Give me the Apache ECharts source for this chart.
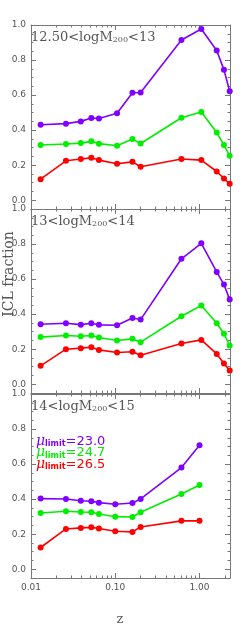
<!DOCTYPE html>
<html><head><meta charset="utf-8">
<script src="https://cdn.jsdelivr.net/npm/echarts@6/dist/echarts.min.js"></script>
<style>html,body{margin:0;padding:0;background:#fff}#c{width:249px;height:630px}</style>
</head><body><div id="c"></div>
<script>
// ---- data ----
const zA = [0.013, 0.026, 0.039, 0.052, 0.064, 0.105, 0.16, 0.2, 0.61, 1.05, 1.6, 1.95, 2.28];
const zC = [0.013, 0.026, 0.039, 0.052, 0.064, 0.10, 0.16, 0.2, 0.61, 1.0];
const p1_230 = [0.431, 0.437, 0.450, 0.469, 0.466, 0.496, 0.613, 0.615, 0.914, 0.977, 0.855, 0.744, 0.622];
const p1_247 = [0.315, 0.321, 0.326, 0.336, 0.323, 0.311, 0.349, 0.324, 0.471, 0.504, 0.387, 0.315, 0.254];
const p1_265 = [0.120, 0.225, 0.235, 0.242, 0.229, 0.208, 0.219, 0.191, 0.235, 0.229, 0.164, 0.124, 0.094];
const p2_230 = [0.342, 0.348, 0.340, 0.348, 0.339, 0.337, 0.378, 0.369, 0.716, 0.804, 0.641, 0.569, 0.483];
const p2_247 = [0.269, 0.278, 0.274, 0.278, 0.267, 0.250, 0.259, 0.240, 0.388, 0.449, 0.348, 0.288, 0.221];
const p2_265 = [0.105, 0.200, 0.206, 0.211, 0.196, 0.181, 0.185, 0.166, 0.232, 0.253, 0.173, 0.118, 0.079];
const p3_230 = [0.403, 0.401, 0.391, 0.388, 0.380, 0.371, 0.378, 0.401, 0.580, 0.707];
const p3_247 = [0.321, 0.331, 0.327, 0.325, 0.315, 0.300, 0.298, 0.325, 0.429, 0.481];
const p3_265 = [0.124, 0.230, 0.236, 0.239, 0.232, 0.217, 0.213, 0.241, 0.276, 0.276];
const xMajorTicks = [0.01, 0.1, 1];
const xMinorTicks = [0.02,0.03,0.04,0.05,0.06,0.07,0.08,0.09,0.2,0.3,0.4,0.5,0.6,0.7,0.8,0.9,2];
const yMajorTicks = [0, 0.2, 0.4, 0.6, 0.8, 1.0];
const yMinorTicks = [0.05,0.1,0.15,0.25,0.3,0.35,0.45,0.5,0.55,0.65,0.7,0.75,0.85,0.9,0.95];
const panelLabels = [['12.50<logM', '200', '<13'], ['13<logM', '200', '<14'], ['14<logM', '200', '<15']];
const legendVals = ['=23.0', '=24.7', '=26.5'];
const colors = ['#7f00ff', '#00ee00', '#ff0000'];

const panels = [
  {z: zA, s: [p1_230, p1_247, p1_265]},
  {z: zA, s: [p2_230, p2_247, p2_265]},
  {z: zC, s: [p3_230, p3_247, p3_265]}
];
const tops = [25, 209, 394];
const H = 184;
const axisCol = '#777';
const textCol = '#555';

const grid = [], xAxis = [], yAxis = [], series = [], graphic = [];
panels.forEach((p, gi) => {
  grid.push({left: 31, width: 199, top: tops[gi], height: H, containLabel: false});
  const xBase = (pos, ticks, len, line, labels) => ({
    type: 'log', logBase: 10, gridIndex: gi, position: pos, min: 0.01, max: 2.3,
    axisLine: {show: line, onZero: false, lineStyle: {color: axisCol, width: 1}},
    axisTick: {show: true, inside: true, length: len, customValues: ticks, lineStyle: {color: axisCol, width: 1}},
    axisLabel: labels ? {show: true, customValues: xMajorTicks, formatter: v => Number(v).toFixed(2),
      color: textCol, fontFamily: 'DejaVu Sans', fontSize: 9, margin: 5} : {show: false},
    splitLine: {show: false}, minorTick: {show: false}
  });
  const xi = xAxis.length;
  xAxis.push(xBase('bottom', xMajorTicks, 5, true, gi === 2));
  xAxis.push(xBase('bottom', xMinorTicks, 2.5, false, false));
  xAxis.push(xBase('top', xMajorTicks, 5, true, false));
  xAxis.push(xBase('top', xMinorTicks, 2.5, false, false));
  const yBase = (pos, ticks, len, line, labels) => ({
    type: 'value', gridIndex: gi, position: pos, min: -0.05, max: 1.0,
    axisLine: {show: line, onZero: false, lineStyle: {color: axisCol, width: 1}},
    axisTick: {show: true, inside: true, length: len, customValues: ticks, lineStyle: {color: axisCol, width: 1}},
    axisLabel: labels ? {show: true, customValues: yMajorTicks, formatter: v => Number(v).toFixed(1),
      color: textCol, fontFamily: 'DejaVu Sans', fontSize: 9, margin: 5} : {show: false},
    splitLine: {show: false}
  });
  const yi = yAxis.length;
  yAxis.push(yBase('left', yMajorTicks, 5, true, true));
  yAxis.push(yBase('left', yMinorTicks, 2.5, false, false));
  yAxis.push(yBase('right', yMajorTicks, 5, true, false));
  yAxis.push(yBase('right', yMinorTicks, 2.5, false, false));
  p.s.forEach((vals, si) => {
    series.push({
      type: 'line', xAxisIndex: xi, yAxisIndex: yi,
      data: p.z.map((z, i) => [z, vals[i]]),
      symbol: 'circle', symbolSize: 6, showSymbol: true,
      lineStyle: {color: colors[si], width: 1.6},
      itemStyle: {color: colors[si]},
      clip: false, z: 3 - si, animation: false
    });
  });
  const lab = panelLabels[gi];
  graphic.push({
    type: 'text', left: 31, top: tops[gi] + 6,
    style: {
      text: '{a|' + lab[0] + '}{s|' + lab[1] + '}{a|' + lab[2] + '}',
      rich: {
        a: {fontFamily: 'DejaVu Serif', fontSize: 13, fill: textCol, verticalAlign: 'bottom', lineHeight: 16},
        s: {fontFamily: 'DejaVu Serif', fontSize: 8, fill: textCol, verticalAlign: 'bottom', lineHeight: 12}
      }
    }
  });
});

legendVals.forEach((v, i) => {
  graphic.push({
    type: 'text', left: 36, top: 434 + i * 11.5,
    style: {
      text: '{m|μ}{s|limit}{a|' + v + '}',
      rich: {
        m: {fontFamily: 'DejaVu Serif', fontStyle: 'italic', fontSize: 14, fill: colors[i], verticalAlign: 'bottom', lineHeight: 14},
        s: {fontFamily: 'DejaVu Sans', fontWeight: 'bold', fontSize: 8, fill: colors[i], verticalAlign: 'bottom', lineHeight: 10},
        a: {fontFamily: 'DejaVu Sans', fontSize: 13, fill: colors[i], verticalAlign: 'bottom', lineHeight: 14}
      }
    }
  });
});

graphic.push({
  type: 'text', x: 9, y: 274, rotation: Math.PI / 2,
  style: {text: 'ICL fraction', fontFamily: 'DejaVu Serif', fontSize: 14, fill: textCol, align: 'center', verticalAlign: 'middle'}
});
graphic.push({
  type: 'text', x: 120, y: 620,
  style: {text: 'z', fontFamily: 'DejaVu Serif', fontSize: 13, fill: textCol, align: 'center', verticalAlign: 'middle'}
});

const chart = echarts.init(document.getElementById('c'), null, {renderer: 'canvas'});
chart.setOption({animation: false, backgroundColor: '#fff', grid, xAxis, yAxis, series, graphic});
</script></body></html>
